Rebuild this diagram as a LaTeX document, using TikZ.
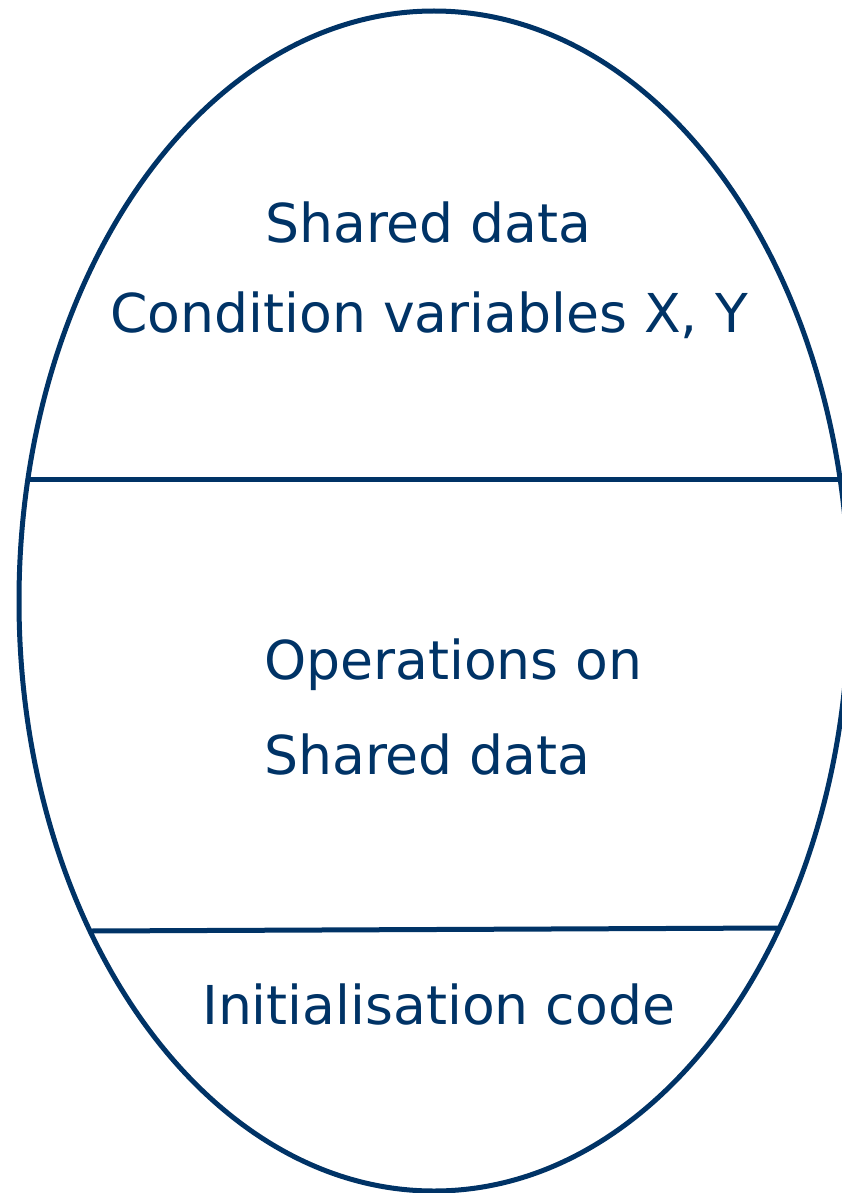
\documentclass[tikz,border=0pt]{standalone}
\usepackage{fontspec}
\usetikzlibrary{shapes.geometric}
\setmainfont{DejaVu Sans}
\definecolor{navy}{HTML}{003366}
\begin{document}
\begin{tikzpicture}[x=1pt,y=-1pt,
  outline/.style={draw=navy,line width=5pt},
  lbl/.style={text=navy,inner sep=0pt,anchor=base west,font=\fontsize{53.6}{60}\selectfont}]
\useasboundingbox (0,0) rectangle (842,1193);
\clip (0,0) rectangle (842,1193);
\node[draw=navy,line width=5pt,ellipse,minimum width=830pt,minimum height=1180pt,inner sep=0pt] (ov) at (434,601) {};
\coordinate (l1a) at (28,479);
\coordinate (l1b) at (850,479);
\coordinate (l2a) at (90,931);
\coordinate (l2b) at (778,928);
\draw[outline] (l1a) -- (l1b);
\draw[outline] (l2a) -- (l2b);
\node[lbl] (t1) at (265,242) {Shared data};
\node[lbl] (t2) at (110,332) {Condition variables X, Y};
\node[lbl] (t3) at (264,679) {Operations on};
\node[lbl] (t4) at (264,774) {Shared data};
\node[lbl] (t5) at (202,1024) {Initialisation code};
\end{tikzpicture}
\end{document}
